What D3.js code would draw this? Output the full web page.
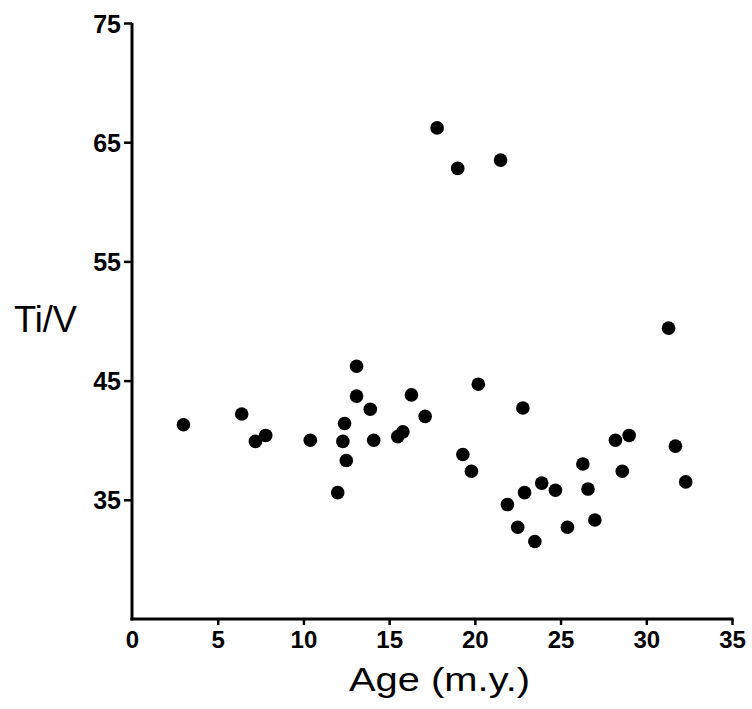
<!DOCTYPE html>
<html>
<head>
<meta charset="utf-8">
<script src="https://cdn.jsdelivr.net/npm/d3@7"></script>
<style>
  html, body { margin: 0; padding: 0; background: #fff; }
  svg { display: block; }
</style>
</head>
<body>
<svg id="chart" width="752" height="709"></svg>
<script>
// Data
const ages = [3.0, 6.4, 7.2, 7.8, 10.4, 12.0, 12.5, 12.3, 12.4, 13.1, 13.1, 13.9, 14.1, 15.5, 15.8, 16.3, 17.1,
              17.8, 19.0, 21.5, 31.3,
              20.2, 22.8, 19.3, 19.8, 29.0, 28.2, 31.7, 26.3, 28.6, 32.3, 23.9, 22.9, 24.7, 26.6, 21.9, 27.0, 22.5, 25.4, 23.5];
const tiV  = [41.3, 42.2, 39.9, 40.4, 40.0, 35.6, 38.3, 39.9, 41.4, 43.7, 46.2, 42.6, 40.0, 40.3, 40.7, 43.8, 42.0,
              66.2, 62.8, 63.5, 49.4,
              44.7, 42.7, 38.8, 37.4, 40.4, 40.0, 39.5, 38.0, 37.4, 36.5, 36.4, 35.6, 35.8, 35.9, 34.6, 33.3, 32.7, 32.7, 31.5];
const xTicks = [0, 5, 10, 15, 20, 25, 30, 35];
const yTicks = [35, 45, 55, 65, 75];
const xTitle = "Age (m.y.)";
const yTitle = "Ti/V";

const svg = d3.select("#chart");
const x = d3.scaleLinear().domain([0, 35]).range([132, 732]);
const y = d3.scaleLinear().domain([25, 75]).range([619, 23]);

const font = "'Liberation Sans', Arial, Helvetica, sans-serif";

// Y axis
const yAxis = svg.append("g")
  .attr("transform", `translate(${x(0)},0)`)
  .call(d3.axisLeft(y).tickValues(yTicks).tickSize(8).tickPadding(3).tickSizeOuter(0));
yAxis.select(".domain").attr("stroke", "#000").attr("stroke-width", 3)
  .attr("d", `M0,${y(75)}V${y(25) + 1.5}`);
yAxis.selectAll(".tick line").attr("stroke", "#000").attr("stroke-width", 2.5);
yAxis.selectAll(".tick text")
  .attr("font-family", font).attr("font-weight", "bold").attr("font-size", 25)
  .attr("fill", "#000").attr("dy", "0.36em");

// X axis
const xAxis = svg.append("g")
  .attr("transform", `translate(0,${y(25)})`)
  .call(d3.axisBottom(x).tickValues(xTicks).tickSize(6).tickPadding(6).tickSizeOuter(0));
xAxis.select(".domain").attr("stroke", "#000").attr("stroke-width", 3)
  .attr("d", `M${x(0) - 1.5},0H${x(35) + 1.5}`);
xAxis.selectAll(".tick line").attr("stroke", "#000").attr("stroke-width", 2.5);
xAxis.selectAll(".tick").filter(d => d === 0).select("line").remove();
xAxis.selectAll(".tick text")
  .attr("font-family", font).attr("font-weight", "bold").attr("font-size", 24)
  .attr("fill", "#000");

// Points
svg.append("g").selectAll("circle")
  .data(ages.map((a, i) => ({ a, t: tiV[i] })))
  .join("circle")
  .attr("cx", d => x(d.a))
  .attr("cy", d => y(d.t))
  .attr("r", 6.8)
  .attr("fill", "#000");

// Axis titles
svg.append("text")
  .attr("x", 14).attr("y", 332)
  .attr("font-family", font).attr("font-size", 36)
  .attr("textLength", 63).attr("lengthAdjust", "spacingAndGlyphs")
  .attr("fill", "#000")
  .text(yTitle);

svg.append("text")
  .attr("x", 349).attr("y", 691)
  .attr("font-family", font).attr("font-size", 34)
  .attr("textLength", 181).attr("lengthAdjust", "spacingAndGlyphs")
  .attr("fill", "#000")
  .text(xTitle);
</script>
</body>
</html>
